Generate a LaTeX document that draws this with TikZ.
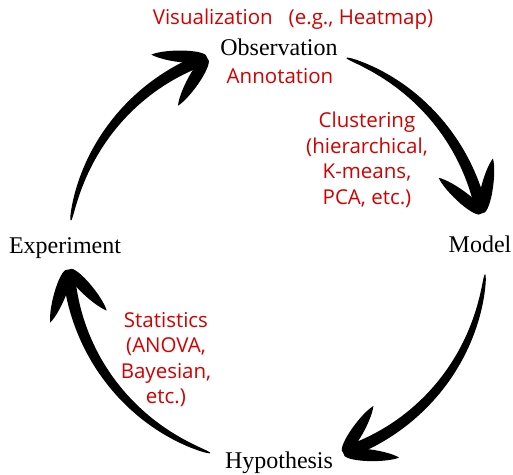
\documentclass[tikz,border=0pt]{standalone}
\usepackage{fontspec}
\setmainfont{Liberation Serif}
\newfontfamily\notefont{Open Sans}
\usetikzlibrary{positioning}
\definecolor{notered}{RGB}{210,0,0}

% one barb of the head, pointing away from the tip
\newcommand{\petal}[1]{%
  \fill[shift={(tip)}, rotate=#1]
    (0,0) .. controls (-1,9) and (42,7) .. (56,0)
          .. controls (42,-7) and (-1,-9) .. (0,0);
}
% brush stroke around the hub: #1 = tail angle, #2 = tip angle
\newcommand{\brusharrow}[2]{%
  \fill[shift={(hub)}]
    plot[domain=0:1, samples=50, variable=\t]
      ({(#1)+((#2)-(#1))*\t*0.97}:{209+5.5*sqrt(\t)+0.5})
    -- plot[domain=1:0, samples=50, variable=\t]
      ({(#1)+((#2)-(#1))*\t*0.97}:{209-5.5*sqrt(\t)-0.5}) -- cycle;
  \path (hub) ++(#2:209) coordinate (tip);
  \petal{(#2)+129}
  \petal{(#2)+67}
}

\begin{document}
\begin{tikzpicture}[
  x=1pt, y=1pt,
  stage/.style = {inner sep=0pt,
                  font=\fontsize{24}{28}\selectfont},   % black step names
  note/.style  = {inner sep=0pt, align=center, text=notered,
                  font=\notefont\fontsize{20.5}{25.5}\selectfont}
]
\useasboundingbox (0,0) rectangle (513,474);
\coordinate (hub) at (277,219);

\node[stage] (obs)  at (279,427) {Observation};
\node[stage] (mod)  at (480,229.5) {Model};
\node[stage] (hyp)  at (279,11) {Hypothesis};
\node[stage] (exp)  at (65,226) {Experiment};

\node[note] (vis)   at (293,455) {Visualization~~~(e.g., Heatmap)};
\node[note] (ann)   at (280,397.5) {Annotation};
\node[note] (clust) at (367,314) {Clustering\\(hierarchical,\\K-means,\\PCA, etc.)};
\node[note] (stat)  at (166,114.5) {Statistics\\(ANOVA,\\Bayesian,\\etc.)};

% the cycle, clockwise
\brusharrow{170.4}{109.5}   % exp -> obs
\brusharrow{70.5}{11.5}     % obs -> mod
\brusharrow{-5.4}{-71.5}    % mod -> hyp
\brusharrow{-108.7}{-176}   % hyp -> exp

\end{tikzpicture}
\end{document}
